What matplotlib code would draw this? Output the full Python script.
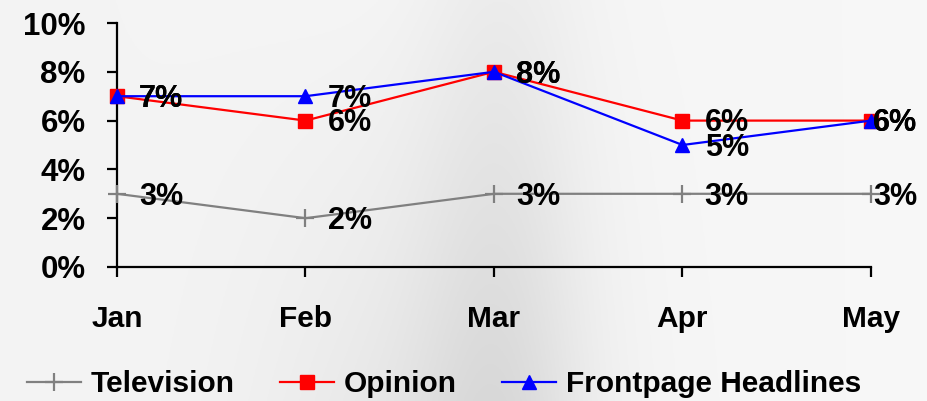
import numpy as np
import matplotlib
matplotlib.use("Agg")
import matplotlib.pyplot as plt
from matplotlib.ticker import PercentFormatter, MultipleLocator

months = ["Jan", "Feb", "Mar", "Apr", "May"]
television = [0.03, 0.02, 0.03, 0.03, 0.03]
opinion = [0.07, 0.06, 0.08, 0.06, 0.06]
frontpage = [0.07, 0.07, 0.08, 0.05, 0.06]
series_names = ["Television", "Opinion", "Frontpage Headlines"]

plt.rcParams["font.family"] = ["Liberation Sans", "DejaVu Sans"]
plt.rcParams["font.weight"] = "bold"
FS = 21.5

fig = plt.figure(figsize=(9.28, 4.01), dpi=100)

# background gradient
bg = fig.add_axes([0, 0, 1, 1], zorder=-10)
xx, yy = np.meshgrid(np.linspace(0, 1, 400), np.linspace(0, 1, 200))
v = 0.955 - 0.075 * np.exp(-((xx - 0.54) / 0.09) ** 2) * (0.5 + 0.5 * yy) \
    - 0.05 * np.exp(-((xx - 0.45) / 0.18) ** 2) * yy \
    + 0.015 * xx
v = np.clip(v, 0, 1)
bg.imshow(np.dstack([v, v, v]), extent=[0, 1, 0, 1], aspect="auto", origin="upper")
bg.axis("off")

ax = fig.add_axes([117 / 928, 1 - 267 / 401, (871 - 117) / 928, (267 - 23) / 401])
ax.patch.set_alpha(0)
x = np.arange(len(months))

ax.plot(x, television, color="#808080", lw=1.6, marker="+", ms=13, mew=1.6,
        label=series_names[0], zorder=3, clip_on=False)
ax.plot(x, opinion, color="#FF0000", lw=1.6, marker="s", ms=10,
        label=series_names[1], zorder=4, clip_on=False)
ax.plot(x, frontpage, color="#0000FF", lw=1.6, marker="^", ms=10,
        label=series_names[2], zorder=5, clip_on=False)

for vals in (television, opinion, frontpage):
    for i, val in enumerate(vals):
        dx = 16 if i < len(months) - 1 else 1.5
        ax.annotate(f"{round(val * 100):d}%", (x[i], val), xytext=(dx, -2),
                    textcoords="offset points", ha="left", va="center",
                    fontsize=22, fontweight="bold", zorder=6, annotation_clip=False)

ax.set_xlim(0, len(months) - 1)
ax.set_ylim(0, 0.10)
ax.yaxis.set_major_locator(MultipleLocator(0.02))
ax.yaxis.set_major_formatter(PercentFormatter(1.0, decimals=0))
ax.set_xticks(x)
ax.set_xticklabels(months)
for s in ("top", "right"):
    ax.spines[s].set_visible(False)
for s in ("left", "bottom"):
    ax.spines[s].set_linewidth(1.6)
ax.tick_params(axis="y", length=7.5, width=1.6, pad=15, labelsize=22.5)
ax.tick_params(axis="x", length=7.5, width=1.6, pad=20, labelsize=FS)
for lbl in ax.get_xticklabels() + ax.get_yticklabels():
    lbl.set_fontweight("bold")

fig.legend(loc="center", bbox_to_anchor=(444 / 928, 1 - 384 / 401), ncol=3,
           frameon=False, fontsize=FS, handlelength=1.8, handletextpad=0.35,
           columnspacing=1.5, prop={"weight": "bold", "size": FS})

fig.savefig("out.png", dpi=100)
